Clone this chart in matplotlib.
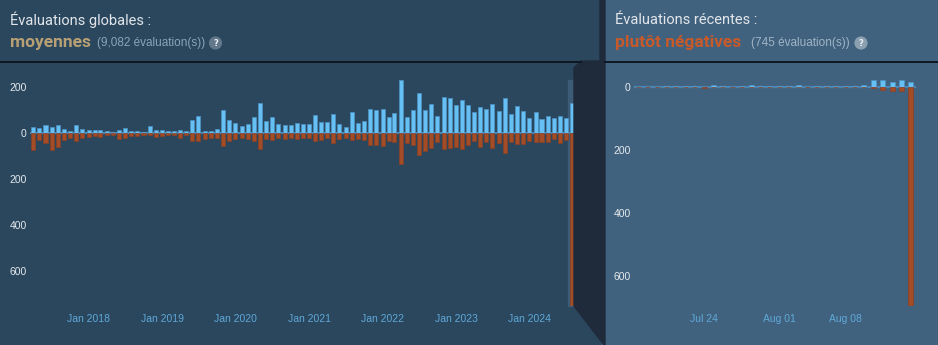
import pandas as pd
import matplotlib
matplotlib.use('Agg')
import matplotlib.pyplot as plt
from matplotlib.patches import Rectangle, Polygon
from matplotlib.lines import Line2D
from matplotlib.ticker import FuncFormatter

# monthly reviews, Apr 2017 .. Aug 2024
months = pd.date_range('2017-04-01', '2024-08-01', freq='MS')
pos_month = [28, 22, 34, 29, 37, 17, 11, 37, 20, 15, 13, 16, 10, 7, 16, 22, 8, 8, 7, 32,
             16, 13, 10, 8, 15, 8, 57, 75, 11, 9, 20, 101, 58, 46, 32, 41, 72, 130, 53, 70,
             41, 35, 35, 46, 41, 41, 78, 48, 48, 83, 41, 26, 91, 45, 55, 104, 101, 104, 70, 87,
             232, 71, 101, 174, 100, 128, 77, 156, 154, 122, 143, 125, 93, 114, 106, 128, 97, 152, 84, 119,
             96, 67, 91, 62, 74, 68, 74, 65, 130]
neg_month = [71, 28, 43, 71, 60, 29, 20, 32, 19, 14, 12, 17, 9, 9, 23, 19, 10, 12, 9, 9,
             14, 12, 9, 9, 19, 9, 32, 35, 23, 20, 20, 54, 35, 23, 20, 23, 35, 70, 23, 29,
             20, 23, 20, 23, 22, 19, 32, 29, 19, 43, 23, 20, 29, 26, 29, 49, 51, 54, 32, 36,
             132, 41, 51, 93, 77, 64, 36, 68, 62, 58, 70, 51, 33, 61, 36, 62, 43, 84, 38, 48,
             46, 32, 39, 36, 36, 23, 43, 29, 760]
year_ticks = pd.date_range('2018-01-01', '2024-01-01', freq='YS')
year_labels = ['Jan 2018', 'Jan 2019', 'Jan 2020', 'Jan 2021', 'Jan 2022', 'Jan 2023', 'Jan 2024']

# daily reviews, last 30 days
days = pd.date_range('2024-07-17', '2024-08-15', freq='D')
pos_day = [0, 0, 0, 3, 1, 1, 3, 0, 5, 1, 0, 3, 5, 2, 3, 3, 1, 5, 0, 1, 3, 2, 1, 2, 5, 21, 21, 15, 21, 15]
neg_day = [0, 2, 2, 0, 0, 0, 0, 5, 0, 0, 0, 0, 0, 0, 0, 0, 0, 0, 0, 0, 0, 1, 2, 1, 0, 6, 10, 15, 15, 700]
day_ticks = pd.to_datetime(['2024-07-24', '2024-08-01', '2024-08-08'])
day_labels = ['Jul 24', 'Aug 01', 'Aug 08']

W, H = 938, 345
LEFT_BG = '#2a475e'
RIGHT_BG = '#41627e'
DARK = '#1f2b3b'
BLUE = '#66c0f4'
ORANGE = '#a34c25'
TICK_X = '#5fa8d8'
TICK_Y = '#e4e9ed'


def fx(px):
    return px / W


def fy(py):
    return 1 - py / H


fig = plt.figure(figsize=(9.38, 3.45), dpi=100)
fig.patch.set_facecolor(LEFT_BG)
fig.add_artist(Rectangle((fx(602), 0), 1 - fx(602), 1, transform=fig.transFigure,
                         color=RIGHT_BG, zorder=-5))
# selection window behind the last month
fig.add_artist(Rectangle((fx(568), fy(306)), fx(6), fy(80) - fy(306), transform=fig.transFigure,
                         color='#3b5b76', zorder=-4))
# dark connector between the two charts
fig.add_artist(Polygon([(fx(574), fy(306)), (fx(574), fy(68)), (fx(581), fy(61)),
                        (fx(600), fy(61)), (fx(600), fy(0)), (fx(605), fy(0)),
                        (fx(605), fy(345)), (fx(604), fy(345))],
                       closed=True, transform=fig.transFigure, color=DARK, zorder=5))
# dark rules under headers
fig.add_artist(Line2D([0, fx(581)], [fy(61.5)] * 2, transform=fig.transFigure,
                      color='#0e1722', lw=1.4, zorder=6))
fig.add_artist(Line2D([fx(605), 1], [fy(61.5)] * 2, transform=fig.transFigure,
                      color='#0e1722', lw=1.4, zorder=6))

# headers
head = dict(family=['Roboto', 'DejaVu Sans'], va='center', ha='left')
small = dict(family=['Liberation Sans', 'DejaVu Sans'], va='center', ha='left')
fig.text(fx(10), fy(20), 'Évaluations globales :', color='#e2e6ea', fontsize=10.5, **head)
fig.text(fx(10), fy(43), 'moyennes', color='#b9a074', fontsize=12.5, fontweight='bold', **head)
fig.text(fx(97), fy(43), '(9,082 évaluation(s))', color='#8ba4b6', fontsize=8.5, **small)
fig.text(fx(615), fy(20), 'Évaluations récentes :', color='#e2e6ea', fontsize=10.5, **head)
fig.text(fx(615), fy(43), 'plutôt négatives', color='#c75a2a', fontsize=12.5, fontweight='bold', **head)
fig.text(fx(751), fy(43), '(745 évaluation(s))', color='#9fb4c4', fontsize=8.5, **small)
for cx, col in [(215.5, '#62788a'), (861, '#8ba1b2')]:
    fig.text(fx(cx), fy(43), '?', color='#e8eef2', fontsize=6, fontweight='bold',
             ha='center', va='center', family='DejaVu Sans', zorder=7,
             bbox=dict(boxstyle='circle,pad=0.25', fc=col, ec='none'))


def style(ax):
    ax.set_facecolor('none')
    for s in ax.spines.values():
        s.set_visible(False)
    ax.tick_params(axis='both', length=0)
    ax.tick_params(axis='x', colors=TICK_X, labelsize=7.5, pad=6)
    ax.tick_params(axis='y', colors=TICK_Y, labelsize=7.5, pad=2.4)
    for lab in ax.get_xticklabels() + ax.get_yticklabels():
        lab.set_family(['Liberation Sans', 'DejaVu Sans'])
    ax.yaxis.set_major_formatter(FuncFormatter(lambda v, p: f'{abs(int(v))}'))
    ax.axhline(0, color='#4b84b0', lw=1.6, zorder=1)


# left: all-time monthly
ax1 = fig.add_axes([fx(30), fy(306), fx(574) - fx(30), fy(62) - fy(306)])
ax1.bar(months, pos_month, width=20, color=BLUE, edgecolor='#4e93c4', lw=0.5, zorder=2)
ax1.bar(months, [-v for v in neg_month], width=20, color=ORANGE, edgecolor='#8a4024', lw=0.5, zorder=2)
ax1.set_ylim(-751, 310)
ax1.set_xlim(months[0] - pd.Timedelta(days=16), months[-1] + pd.Timedelta(days=8.5))
ax1.set_yticks([200, 0, -200, -400, -600])
ax1.set_xticks(year_ticks)
ax1.set_xticklabels(year_labels)
style(ax1)

# right: recent daily
ax2 = fig.add_axes([fx(634), fy(306), fx(916) - fx(634), fy(62) - fy(306)])
ax2.bar(days, pos_day, width=0.55, color=BLUE, edgecolor='#4e93c4', lw=0.5, zorder=2)
ax2.bar(days, [-v for v in neg_day], width=0.55, color=ORANGE, edgecolor='#8a4024', lw=0.5, zorder=2)
ax2.set_ylim(-696, 78)
ax2.set_xlim(days[0] - pd.Timedelta(hours=11), days[-1] + pd.Timedelta(hours=13))
ax2.set_yticks([0, -200, -400, -600])
ax2.set_xticks(day_ticks)
ax2.set_xticklabels(day_labels)
style(ax2)

fig.savefig('out.png', dpi=100, facecolor=fig.get_facecolor())
